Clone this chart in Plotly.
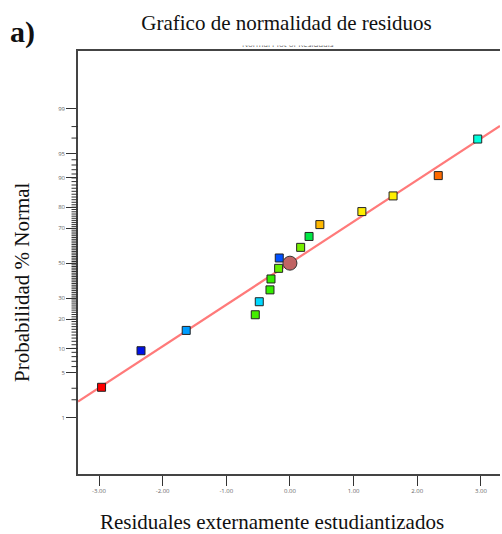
from statistics import NormalDist
import plotly.graph_objects as go

# Externally studentized residuals and their normal probability (%)
residuals = [-2.96, -2.34, -1.63, -0.545, -0.482, -0.314, -0.298, -0.178,
             -0.168, 0.168, 0.30, 0.47, 1.13, 1.62, 2.33, 2.95]
prob_pct = [3.1, 9.4, 15.6, 21.9, 28.1, 34.4, 40.6, 46.9,
            53.1, 59.4, 65.6, 71.9, 78.1, 84.4, 90.6, 96.9]
point_colors = ["#FF0000", "#0010E8", "#009CFF", "#44EE00", "#00D8FF", "#33EE00",
                "#33EE00", "#66EE00", "#0050FF", "#77EE00", "#00E844", "#FFB800",
                "#FFEE00", "#FFEE00", "#FF6A00", "#00FFDD"]

# Reference point at the centre of the distribution
center_x = [0.0]
center_p = [50.0]

# Fitted normal line: probit z = slope * residual
line_slope = 0.625
x_range = [-3.33, 3.30]
z_range = [-3.17, 3.19]

major_ticks = [1, 5, 10, 20, 30, 50, 70, 80, 90, 95, 99]
minor_ticks = [2, 3] + list(range(6, 95)) + [97, 98]

nd = NormalDist()


def probit(p):
    return nd.inv_cdf(p / 100.0)


fig = go.Figure()

fig.add_trace(go.Scatter(
    x=x_range,
    y=[line_slope * v for v in x_range],
    mode="lines",
    line=dict(color="#FF7A7A", width=2.2),
    hoverinfo="skip",
))

fig.add_trace(go.Scatter(
    x=residuals,
    y=[probit(p) for p in prob_pct],
    mode="markers",
    marker=dict(symbol="square", size=8, color=point_colors,
                line=dict(color="#222222", width=1)),
))

fig.add_trace(go.Scatter(
    x=center_x,
    y=[probit(p) for p in center_p],
    mode="markers",
    marker=dict(symbol="circle", size=14, color="#C06464",
                line=dict(color="#333333", width=1)),
))

tick_font = dict(family="Open Sans, DejaVu Sans, sans-serif", size=6, color="#666666")

fig.update_layout(
    width=502,
    height=534,
    margin=dict(l=78, r=2, t=51, b=60),
    paper_bgcolor="white",
    plot_bgcolor="white",
    showlegend=False,
    xaxis=dict(
        range=x_range,
        tickvals=[-3, -2, -1, 0, 1, 2, 3],
        ticktext=["-3.00", "-2.00", "-1.00", "0.00", "1.00", "2.00", "3.00"],
        ticks="outside", ticklen=10, tickwidth=1.2, tickcolor="#333333",
        tickfont=tick_font,
        showgrid=False, zeroline=False,
        showline=True, linecolor="#444444", linewidth=1.5, mirror=True,
    ),
    yaxis=dict(
        range=z_range,
        tickvals=[probit(p) for p in major_ticks],
        ticktext=[str(p) for p in major_ticks],
        ticks="outside", ticklen=10, tickwidth=1.2, tickcolor="#333333",
        tickfont=tick_font,
        showgrid=False, zeroline=False,
        showline=True, linecolor="#444444", linewidth=1.5, mirror=False,
    ),
)

# Minor probability ticks on the left axis
plot_w = 502 - 78 - 2
for p in minor_ticks:
    z = probit(p)
    fig.add_shape(type="line", xref="paper", yref="y",
                  x0=-6.5 / plot_w, x1=0, y0=z, y1=z,
                  line=dict(color="#333333", width=1), layer="above")

serif = "Liberation Serif, Times New Roman, serif"

# Subtitle, partly hidden under the title box drawn after it
fig.add_annotation(
    text="Normal Plot of Residuals", xref="paper", yref="paper",
    x=(288 - 78) / plot_w, y=1.0, xanchor="center", yanchor="bottom", yshift=0,
    showarrow=False, font=dict(family="Open Sans, sans-serif", size=8, color="#555555"),
)
fig.add_annotation(
    text="Grafico de normalidad de residuos", xref="paper", yref="paper",
    x=(286 - 78) / plot_w, y=1.0, xanchor="center", yanchor="bottom", yshift=5,
    showarrow=False, bgcolor="white", width=345, height=44, borderpad=0,
    font=dict(family=serif, size=21, color="#111111"),
)
fig.add_annotation(
    text="<b>a)</b>", xref="paper", yref="paper",
    x=-70 / plot_w, y=1.0, xanchor="left", yanchor="bottom", yshift=0,
    showarrow=False, font=dict(family=serif, size=30, color="#111111"),
)
fig.add_annotation(
    text="Probabilidad % Normal", xref="paper", yref="paper",
    x=-56 / plot_w, y=(474 - 282) / 423, xanchor="center", yanchor="middle",
    textangle=-90, showarrow=False,
    font=dict(family=serif, size=21, color="#111111"),
)
fig.add_annotation(
    text="Residuales externamente estudiantizados", xref="paper", yref="paper",
    x=(272 - 78) / plot_w, y=0, xanchor="center", yanchor="middle", yshift=-48,
    showarrow=False, font=dict(family=serif, size=21, color="#111111"),
)

fig.write_html("out.html")
